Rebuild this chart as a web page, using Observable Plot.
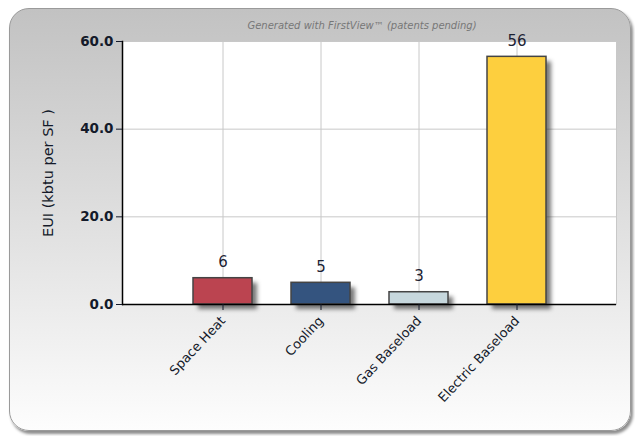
<!DOCTYPE html>
<html>
<head>
<meta charset="utf-8">
<script src="https://cdn.jsdelivr.net/npm/d3@7"></script>
<script src="https://cdn.jsdelivr.net/npm/@observablehq/plot@0.6"></script>
<style>
  html, body { margin: 0; padding: 0; background: #fff; }
  #wrap { position: relative; width: 635px; height: 436px; overflow: hidden; }
  #panel {
    position: absolute; left: 9px; top: 8px; width: 620px; height: 421px;
    border-radius: 20px; border: 1px solid #9a9a9a;
    background: linear-gradient(to bottom, #c2c2c2 0%, #e2e2e2 55%, #fdfdfd 100%);
    box-shadow: 2px 3px 3px rgba(0,0,0,0.45);
  }
  #title {
    position: absolute; top: 20px; left: 362px; transform: translateX(-50%);
    font: italic 10px "DejaVu Sans", sans-serif; color: #777; white-space: nowrap;
  }
  #chart { position: absolute; left: 0; top: 0; }
  #chart g[aria-label="y-axis label"], #chart g[aria-label="y-axis label"] text { font-weight: normal; font-size: 14.5px; }
</style>
</head>
<body>
<div id="wrap">
  <div id="panel"></div>
  <div id="title">Generated with FirstView™ (patents pending)</div>
  <div id="chart"></div>
</div>
<script>
const categories = ["Space Heat", "Cooling", "Gas Baseload", "Electric Baseload"];
const values = [6.0, 4.95, 2.8, 56.5];
const valueLabels = ["6", "5", "3", "56"];
const colors = ["#bb4450", "#34547f", "#c6d7dd", "#fdcf3e"];
const yTicks = [0, 20, 40, 60];
const yLabel = "EUI (kbtu per SF )";

const data = categories.map((c, i) => ({category: c, value: values[i], label: valueLabels[i], color: colors[i]}));

const chart = Plot.plot({
  width: 635,
  height: 436,
  marginLeft: 122,
  marginRight: 19,
  marginTop: 41,
  marginBottom: 132,
  style: {background: "transparent", fontFamily: "DejaVu Sans, sans-serif", color: "#141a2a"},
  x: {type: "band", domain: categories, paddingInner: 0.4, paddingOuter: 0.7},
  y: {domain: [0, 60]},
  marks: [
    Plot.frame({fill: "white", stroke: "#c8c8c8"}),
    Plot.gridY(yTicks, {stroke: "#c8c8c8", strokeOpacity: 1}),
    Plot.gridX({stroke: "#c8c8c8", strokeOpacity: 1}),
    Plot.barY(data, {x: "category", y: "value", fill: "#222", fillOpacity: 0.6, dx: 5, dy: 5, imageFilter: "blur(2px)"}),
    Plot.barY(data, {x: "category", y: "value", fill: "color", stroke: "#444", strokeWidth: 1.5}),
    Plot.text(data, {x: "category", y: "value", text: "label", dy: -16, fontSize: 15, fill: "#1c2233"}),
    Plot.frame({anchor: "left", stroke: "#000", strokeWidth: 1.5}),
    Plot.ruleY([0], {stroke: "#000", strokeWidth: 1.5}),
    Plot.axisY(yTicks, {
      tickFormat: d3.format(".1f"), fontSize: 13.5, fontWeight: "bold", tickSize: 6, tickPadding: 3,
      label: yLabel, labelArrow: "none", labelAnchor: "center", labelOffset: 80
    }),
    Plot.axisX({
      tickSize: 6, tickRotate: -47, fontSize: 13, tickPadding: 8, label: null
    })
  ]
});
document.getElementById("chart").appendChild(chart);
</script>
</body>
</html>
